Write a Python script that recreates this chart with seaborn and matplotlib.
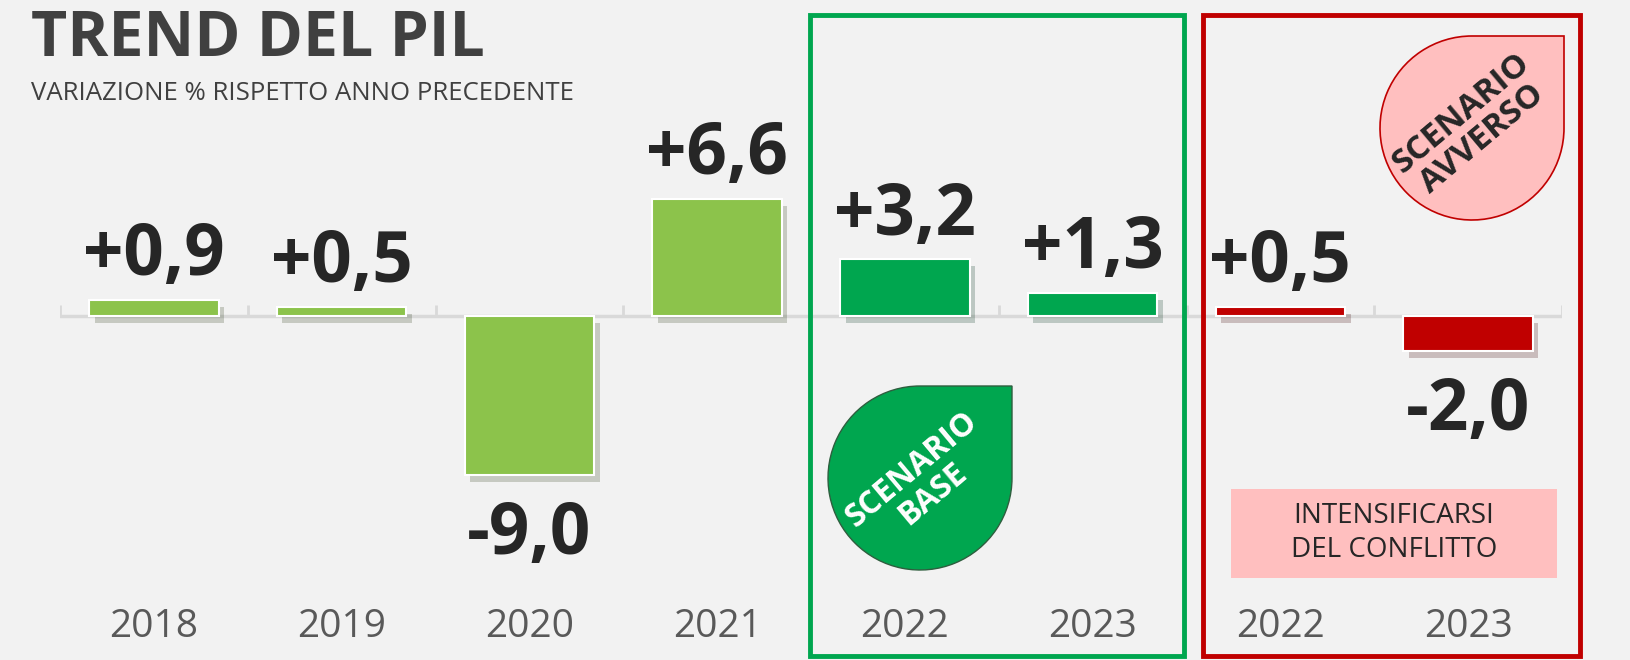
import matplotlib
matplotlib.use('Agg')
import matplotlib.pyplot as plt
import matplotlib.patheffects as pe
from matplotlib.patches import Rectangle, PathPatch
from matplotlib.path import Path
import seaborn as sns
import pandas as pd
import numpy as np

# dati
anni = ['2018', '2019', '2020', '2021', '2022', '2023', '2022', '2023']
pil = [0.9, 0.5, -9.0, 6.6, 3.2, 1.3, 0.5, -2.0]
gruppi = ['storico'] * 4 + ['base'] * 2 + ['avverso'] * 2
colori = {'storico': '#8CC34B', 'base': '#00A64F', 'avverso': '#C00000'}

df = pd.DataFrame({'pos': range(len(pil)), 'anno': anni, 'pil': pil, 'gruppo': gruppi})

sns.set_theme(style='white')
plt.rcParams['font.family'] = ['Open Sans', 'DejaVu Sans']

W, H = 1630, 660
BG = '#F2F2F2'
Y0 = 316      # pixel of zero line (from top)
PPU = 17.7    # pixels per unit

fig = plt.figure(figsize=(W / 100, H / 100), dpi=100, facecolor=BG)
ax = fig.add_axes([60 / W, 0, 1502 / W, 1])
ax.set_facecolor(BG)

sns.barplot(data=df, x='pos', y='pil', hue='gruppo', palette=colori, dodge=False,
            width=0.69, ax=ax, legend=False, edgecolor='white', linewidth=1.5,
            saturation=1, zorder=3)
for p in ax.patches:
    p.set_path_effects([pe.SimplePatchShadow(offset=(4, -5), alpha=0.22), pe.Normal()])

ax.set_xlim(-0.5, 7.5)
ax.set_ylim(-(H - Y0) / PPU, Y0 / PPU)
ax.axis('off')

# asse zero con tacche
ax.axhline(0, color='#D9D9D9', lw=2.5, zorder=1)
ax.vlines(np.arange(-0.5, 8), 0, 0.6, color='#D9D9D9', lw=2, zorder=1)

# etichette valori
for i, v in enumerate(pil):
    txt = f"{v:+.1f}".replace('.', ',')
    y = v + 1.4 if v >= 0 else v - 4.45
    ax.text(i, y, txt, ha='center', va='baseline', fontsize=51, weight='bold', color='#262626')

# anni
for i, a in enumerate(anni):
    ax.text(i, (Y0 - 627) / PPU, a, ha='center', va='center', fontsize=28, color='#595959')

# titolo
fig.text(31 / W, 1 - 40 / H, 'TREND DEL PIL', fontsize=45, weight='bold', color='#404040', va='center')
fig.text(31 / W, 1 - 94 / H, 'VARIAZIONE % RISPETTO ANNO PRECEDENTE', fontsize=18.5,
         color='#404040', va='center')

# riquadri scenari
def box(x0, y0, x1, y1, col):
    fig.add_artist(Rectangle((x0 / W, 1 - y1 / H), (x1 - x0) / W, (y1 - y0) / H,
                             fill=False, ec=col, lw=3.5, transform=fig.transFigure))

box(810, 15, 1184, 656, '#00A64F')
box(1203, 15, 1580, 656, '#C00000')

def goccia(cx, cy, r, fc, ec, lw):
    arc = Path.arc(90, 360)
    v = list(arc.vertices) + [(1, 1), (0, 1), (0, 1)]
    c = list(arc.codes) + [Path.LINETO, Path.LINETO, Path.CLOSEPOLY]
    v = np.array(v)
    xs = (cx + r * v[:, 0]) / W
    ys = (H - cy + r * v[:, 1]) / H
    fig.add_artist(PathPatch(Path(np.column_stack([xs, ys]), c), fc=fc, ec=ec, lw=lw,
                             transform=fig.transFigure))

goccia(920, 478, 92, '#00A64F', '#2E5E3E', 1)
fig.text(922 / W, 1 - 482 / H, 'SCENARIO\nBASE', rotation=40, ha='center', va='center',
         rotation_mode='anchor', color='white', weight='bold', fontsize=23,
         linespacing=1.0, multialignment='center')

goccia(1472, 128, 92, '#FFBFBF', '#C00000', 1.2)
fig.text(1472 / W, 1 - 126 / H, 'SCENARIO\nAVVERSO', rotation=40, ha='center', va='center',
         rotation_mode='anchor', color='#262626', weight='bold', fontsize=24,
         linespacing=1.0, multialignment='center')

fig.add_artist(Rectangle((1231 / W, 1 - 578 / H), 326 / W, 89 / H, fc='#FFBFBF', ec='none',
                         transform=fig.transFigure))
fig.text(1394 / W, 1 - 533 / H, 'INTENSIFICARSI\nDEL CONFLITTO', ha='center', va='center',
         color='#262626', fontsize=20, linespacing=1.25, multialignment='center')

fig.savefig('out.png', dpi=100, facecolor=BG)
